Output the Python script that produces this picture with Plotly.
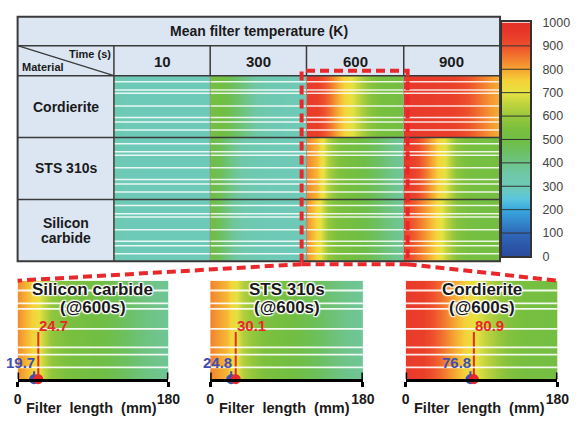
import plotly.graph_objects as go

W, H = 584, 423
def PX(x):
    return x / W
def PY(y):
    return 1 - y / H

FONT = "Liberation Sans, Arial, sans-serif"

# ---------------- data ----------------
materials = ["Cordierite", "STS 310s", "Silicon<br>carbide"]
times = ["10", "300", "600", "900"]
positions_mm = [0, 20, 40, 60, 80, 100, 120, 140, 160, 180]

# mean filter temperature (K) along filter length
cord_10 = [335, 303, 300, 300, 300, 300, 300, 300, 300, 300]
cord_300 = [525, 510, 470, 415, 365, 335, 318, 312, 310, 308]
cord_600 = [950, 940, 870, 790, 715, 640, 570, 535, 520, 515]
cord_900 = [955, 955, 950, 945, 940, 930, 900, 860, 820, 790]

sts_10 = [335, 303, 300, 300, 300, 300, 300, 300, 300, 300]
sts_300 = [505, 460, 400, 350, 325, 315, 310, 308, 306, 305]
sts_600 = [840, 780, 630, 560, 530, 500, 470, 430, 395, 375]
sts_900 = [960, 930, 860, 770, 680, 580, 540, 525, 520, 515]

sic_10 = [335, 303, 300, 300, 300, 300, 300, 300, 300, 300]
sic_300 = [510, 450, 385, 340, 320, 312, 308, 306, 305, 305]
sic_600 = [830, 740, 590, 545, 520, 500, 470, 430, 400, 380]
sic_900 = [930, 880, 820, 750, 650, 570, 535, 520, 515, 510]

wall_fracs = [0.10, 0.23, 0.286, 0.49, 0.677, 0.75, 0.88]

panel_titles = ["Silicon carbide", "STS 310s", "Cordierite"]
panel_sub = ["(@600s)", "(@600s)", "(@600s)"]
blue_mm = [19.7, 24.8, 76.8]
red_mm = [24.7, 30.1, 80.9]
panel_ticks = [0, 180]

colorbar_ticks = [0, 100, 200, 300, 400, 500, 600, 700, 800, 900, 1000]

cs_vals = [0, 100, 200, 250, 300, 350, 400, 450, 500, 550, 600, 650, 700, 750, 800, 850, 900, 950, 1000]
cs_cols = ['#2b4a9c', '#2f66b8', '#38a8e0', '#5cc6dc', '#6ecab8', '#6fc8aa', '#6fc488', '#6cc062',
           '#70be44', '#7cc03e', '#96c83c', '#bcd23e', '#e6e240', '#f5d43a', '#f5a832', '#f27a2e',
           '#ee502c', '#e93a2a', '#e53028']

grid = [[cord_10, cord_300, cord_600, cord_900],
        [sts_10, sts_300, sts_600, sts_900],
        [sic_10, sic_300, sic_600, sic_900]]
panel_profiles = [sic_600, sts_600, cord_600]

# ---------------- layout geometry (pixels) ----------------
col_edges = [113, 212, 311, 411, 510]
row_edges = [71, 135, 199, 263]
panel_x = [(14, 169), (212, 369), (413, 569)]
panel_y = (283, 385)

fig = go.Figure()
xa_main = ["x", "x2", "x3", "x4"]

for r in range(3):
    for c in range(4):
        prof = grid[r][c]
        fig.add_trace(go.Heatmap(z=[prof, prof], x=positions_mm, y=[r, r + 0.5, r + 1],
                                 coloraxis="coloraxis", zsmooth="best", hoverinfo="skip",
                                 xaxis=xa_main[c], yaxis="y"))

for i in range(3):
    p = panel_profiles[i]
    fig.add_trace(go.Heatmap(z=[p, p], x=positions_mm, y=[0, 0.5, 1], coloraxis="coloraxis",
                             zsmooth="best", hoverinfo="skip", xaxis=f"x{5+i}", yaxis="y2"))

fig.add_trace(go.Heatmap(z=[[v, v] for v in colorbar_ticks], x=[0, 1], y=colorbar_ticks,
                         coloraxis="coloraxis", zsmooth="best", hoverinfo="skip",
                         xaxis="x8", yaxis="y3"))

RED = "#e8282a"
BLUE = "#3f4fb0"
for i in range(3):
    xa = f"x{5+i}"
    fig.add_trace(go.Scatter(x=[blue_mm[i], blue_mm[i]], y=[0, 0.08], mode="lines",
                             line=dict(color=BLUE, width=2), xaxis=xa, yaxis="y2",
                             cliponaxis=False, hoverinfo="skip", showlegend=False))
    fig.add_trace(go.Scatter(x=[blue_mm[i]], y=[0], mode="markers",
                             marker=dict(color=BLUE, size=10), xaxis=xa, yaxis="y2",
                             cliponaxis=False, hoverinfo="skip", showlegend=False))
    fig.add_trace(go.Scatter(x=[red_mm[i], red_mm[i]], y=[0, 0.48], mode="lines",
                             line=dict(color=RED, width=2), xaxis=xa, yaxis="y2",
                             cliponaxis=False, hoverinfo="skip", showlegend=False))
    fig.add_trace(go.Scatter(x=[red_mm[i]], y=[0], mode="markers",
                             marker=dict(color=RED, size=10), xaxis=xa, yaxis="y2",
                             cliponaxis=False, hoverinfo="skip", showlegend=False))

layout = dict(width=W, height=H, margin=dict(l=0, r=0, t=0, b=0),
              paper_bgcolor="white", plot_bgcolor="white", showlegend=False,
              font=dict(family=FONT),
              coloraxis=dict(colorscale=[[v / 1000, col] for v, col in zip(cs_vals, cs_cols)],
                             cmin=0, cmax=1000, showscale=False))

for c in range(4):
    name = "xaxis" if c == 0 else f"xaxis{c+1}"
    layout[name] = dict(domain=[PX(col_edges[c]), PX(col_edges[c + 1])], range=[0, 180],
                        visible=False, anchor="y")
layout["yaxis"] = dict(domain=[PY(row_edges[-1]), PY(row_edges[0])], range=[3, 0],
                       visible=False, anchor="x")

for i in range(3):
    layout[f"xaxis{5+i}"] = dict(domain=[PX(panel_x[i][0]), PX(panel_x[i][1])], range=[0, 180],
                                 anchor="y2", showline=True, linecolor="black", linewidth=3,
                                 ticks="outside", ticklen=5, tickwidth=3, tickcolor="black",
                                 tickvals=panel_ticks, ticktext=[f"<b>{t}</b>" for t in panel_ticks],
                                 tickfont=dict(size=14, color="#1a1a1a", family=FONT),
                                 showgrid=False, zeroline=False, fixedrange=True)
layout["yaxis2"] = dict(domain=[PY(panel_y[1]), PY(panel_y[0])], range=[0, 1], visible=False,
                        anchor="x5")

layout["xaxis8"] = dict(domain=[PX(512), PX(541)], range=[0, 1], anchor="y3", showline=True,
                        mirror=True, linecolor="#333", linewidth=1.5, showticklabels=False,
                        ticks="", showgrid=False, zeroline=False)
layout["yaxis3"] = dict(domain=[PY(258), PY(16)], range=[0, 1000], anchor="x8", side="right",
                        showline=True, mirror=True, linecolor="#333", linewidth=1.5,
                        tickvals=colorbar_ticks, ticks="", showgrid=False, zeroline=False,
                        tickfont=dict(size=12.5, color="#444", family=FONT), ticklabelstandoff=8)

fig.update_layout(**layout)

shapes = []
HDR = "#dce6f2"
LC = "#3a3a3a"
def rect(x0, y0, x1, y1, **kw):
    shapes.append(dict(type="rect", xref="paper", yref="paper", x0=PX(x0), x1=PX(x1),
                       y0=PY(y1), y1=PY(y0), **kw))
def pline(x0, y0, x1, y1, color=LC, width=1.5, dash=None, layer="above"):
    d = dict(type="line", xref="paper", yref="paper", x0=PX(x0), y0=PY(y0), x1=PX(x1), y1=PY(y1),
             line=dict(color=color, width=width), layer=layer)
    if dash:
        d["line"]["dash"] = dash
    shapes.append(d)

rect(14, 10, 510, 71, fillcolor=HDR, line=dict(width=0), layer="below")
rect(14, 71, 113, 263, fillcolor=HDR, line=dict(width=0), layer="below")

# channel walls (white lines)
for r in range(3):
    for f in wall_fracs:
        shapes.append(dict(type="line", xref="paper", yref="y", x0=PX(col_edges[0]), x1=PX(col_edges[-1]),
                           y0=r + f, y1=r + f, line=dict(color="rgba(255,255,255,0.85)", width=1.5)))
for i in range(3):
    for f in wall_fracs:
        shapes.append(dict(type="line", xref=f"x{5+i} domain", yref="y2", x0=0, x1=1,
                           y0=1 - f, y1=1 - f, line=dict(color="rgba(255,255,255,0.9)", width=1.8)))

# table lines
for y in [40, 71, 135, 199]:
    pline(14, y, 510, y)
pline(113, 40, 113, 263)
for x in col_edges[1:-1]:
    pline(x, 40, x, 71)
    pline(x, 71, x, 263, color="rgba(90,90,90,0.55)", width=1)
pline(14, 40, 113, 71, width=1.2)
rect(14, 10, 510, 263, line=dict(color=LC, width=2), fillcolor="rgba(0,0,0,0)")

# colorbar separators
for v in colorbar_ticks[1:-1]:
    shapes.append(dict(type="line", xref="paper", yref="y3", x0=PX(512), x1=PX(541), y0=v, y1=v,
                       line=dict(color="#333", width=1)))

# panel end ticks (upper half)
for i in range(3):
    for t in panel_ticks:
        shapes.append(dict(type="line", xref=f"x{5+i}", yref="paper", x0=t, x1=t,
                           y0=PY(385), y1=PY(378), line=dict(color="black", width=3)))

# red dashed highlight
DASH = "9px,5px"
shapes.append(dict(type="rect", xref="paper", yref="paper", x0=PX(306), x1=PX(415), y0=PY(266), y1=PY(66),
                   line=dict(color=RED, width=4, dash=DASH), fillcolor="rgba(0,0,0,0)"))
pline(306, 266, 14, 283, color=RED, width=4, dash=DASH)
pline(415, 266, 569, 283, color=RED, width=4, dash=DASH)

fig.update_layout(shapes=shapes)

ann = []
TC = "#1a1a1a"
def text(x, y, s, size, color=TC, xanchor="center", **kw):
    ann.append(dict(x=PX(x), y=PY(y), xref="paper", yref="paper", text=s, showarrow=False,
                    xanchor=xanchor, yanchor="middle", font=dict(size=size, color=color, family=FONT), **kw))

text(262, 25, "<b>Mean filter temperature (K)</b>", 14)
for c, t in enumerate(times):
    text((col_edges[c] + col_edges[c + 1]) / 2, 56, f"<b>{t}</b>", 15)
for r, m in enumerate(materials):
    lines = m.split("<br>")
    yc = (row_edges[r] + row_edges[r + 1]) / 2
    n = len(lines)
    for k, ln in enumerate(lines):
        text(63.5, yc + (k - (n - 1) / 2) * 15.5, f"<b>{ln}</b>", 14)
text(88, 49, "<b>Time (s)</b>", 11)
text(40, 62, "<b>Material</b>", 11)

SH = "white 1px 1px 1px, white -1px -1px 1px, white 1px -1px 1px, white -1px 1px 1px, white 0 0 3px"
for i in range(3):
    cx = (panel_x[i][0] + panel_x[i][1]) / 2
    ann.append(dict(x=PX(cx), y=PY(292), xref="paper", yref="paper", text=f"<b>{panel_titles[i]}</b>",
                    showarrow=False, xanchor="center", yanchor="middle",
                    font=dict(size=17, color=TC, family=FONT, shadow=SH)))
    ann.append(dict(x=PX(cx), y=PY(311), xref="paper", yref="paper", text=f"<b>{panel_sub[i]}</b>",
                    showarrow=False, xanchor="center", yanchor="middle",
                    font=dict(size=17, color=TC, family=FONT, shadow=SH)))
    text(cx - 2, 415, "<b>Filter  length  (mm)</b>", 14.5)
    ann.append(dict(x=red_mm[i], y=0.545, xref=f"x{5+i}", yref="y2", text=f"<b>{red_mm[i]}</b>",
                    showarrow=False, xanchor="left", yanchor="middle", xshift=-1,
                    font=dict(size=15, color=RED, family=FONT)))
    ann.append(dict(x=blue_mm[i], y=0.17, xref=f"x{5+i}", yref="y2", text=f"<b>{blue_mm[i]}</b>",
                    showarrow=False, xanchor="right", yanchor="middle", xshift=3,
                    font=dict(size=15, color=BLUE, family=FONT)))

fig.update_layout(annotations=ann)
fig.write_html("out.html")
